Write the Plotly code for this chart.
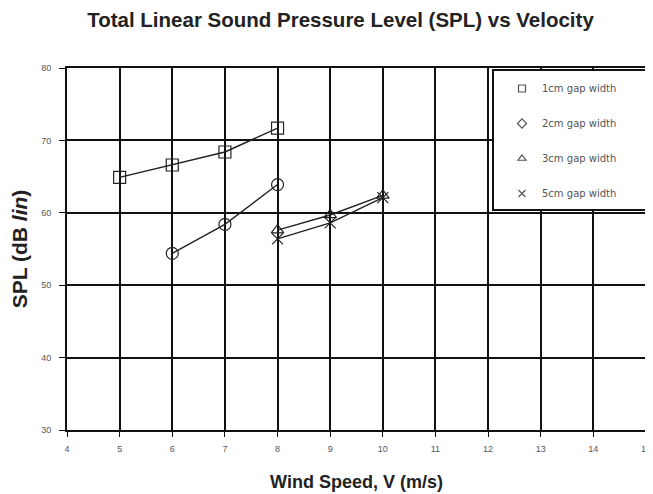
import plotly.graph_objects as go

# Data
speed_1cm = [5, 6, 7, 8]
spl_1cm = [64.9, 66.6, 68.4, 71.7]
speed_2cm = [6, 7, 8]
spl_2cm = [54.4, 58.4, 63.9]
speed_3cm = [8, 9, 10]
spl_3cm = [57.6, 59.7, 62.4]
speed_5cm = [8, 9, 10]
spl_5cm = [56.4, 58.6, 62.1]

names = ["1cm gap width", "2cm gap width", "3cm gap width", "5cm gap width"]
xs_all = [speed_1cm, speed_2cm, speed_3cm, speed_5cm]
ys_all = [spl_1cm, spl_2cm, spl_3cm, spl_5cm]
symbols = ["square-open", "circle-open", "triangle-up-open", "x-thin-open"]
sizes = [12, 12, 11, 11]
leg_symbols = ["square-open", "diamond-open", "triangle-up-open", "x-thin-open"]

fig = go.Figure()
for i in range(4):
    fig.add_trace(go.Scatter(
        x=xs_all[i], y=ys_all[i], name=names[i], mode="lines+markers",
        showlegend=False,
        line=dict(color="#222222", width=1.4),
        marker=dict(symbol=symbols[i], size=sizes[i], color="#222222",
                    line=dict(color="#222222", width=1.2)),
    ))
# legend entries (marker only, as in the reference legend)
for i in range(4):
    fig.add_trace(go.Scatter(
        x=[None], y=[None], name=names[i], mode="markers",
        legendgroup=f"g{i}",
        marker=dict(symbol=leg_symbols[i], size=7, color="#555555",
                    line=dict(color="#555555", width=1.2)),
    ))

font_main = "Liberation Sans, Arial, sans-serif"

# page body has an 8px margin, so the figure is sized to the remaining window
W, H = 645, 486
L, T = 59, 60
PW, PH = 579, 362

fig.update_layout(
    width=W, height=H,
    margin=dict(l=L, r=W - L - PW, t=T, b=H - T - PH, autoexpand=False),
    paper_bgcolor="white", plot_bgcolor="white",
    title=dict(text="<b>Total Linear Sound Pressure Level (SPL) vs Velocity</b>",
               x=332.5 / W, xanchor="center", y=1 - 12 / H, yanchor="middle",
               xref="container", yref="container",
               font=dict(family=font_main, size=20.5, color="#222222")),
    xaxis=dict(range=[4, 15.0001], dtick=1, tick0=4, automargin=False,
               showgrid=True, gridcolor="#111111", gridwidth=2,
               showline=True, linecolor="#111111", linewidth=2, mirror=True,
               ticks="outside", ticklen=5, tickcolor="#111111",
               ticklabelstandoff=4,
               tickfont=dict(family=font_main, size=9, color="#555555"),
               title=dict(text="<b>Wind Speed, V (m/s)</b>", standoff=23,
                          font=dict(family=font_main, size=18, color="#222222")),
               zeroline=False),
    yaxis=dict(range=[30, 80], dtick=10, automargin=False,
               showgrid=True, gridcolor="#111111", gridwidth=2,
               showline=True, linecolor="#111111", linewidth=2, mirror=True,
               ticks="outside", ticklen=6, tickcolor="#111111",
               ticklabelstandoff=6,
               tickfont=dict(family=font_main, size=9, color="#555555"),
               title=dict(text="<b>SPL (dB <i>lin</i>)</b>", standoff=12,
                          font=dict(family=font_main, size=21, color="#222222")),
               zeroline=False),
    legend=dict(x=(502 - 67) / PW, xanchor="left", y=1 - 6 / PH, yanchor="top",
                bgcolor="rgba(0,0,0,0)", borderwidth=0,
                font=dict(family="DejaVu Sans, sans-serif", size=10, color="#555555"),
                tracegroupgap=16, itemwidth=30),
    showlegend=True,
)

# legend frame
fig.add_shape(type="rect", xref="paper", yref="paper",
              x0=(493 - 67) / PW, x1=1.0,
              y0=1 - (210 - 68) / PH, y1=1 - (70 - 68) / PH,
              line=dict(color="#111111", width=2), fillcolor="white",
              layer="above")

fig.write_html("out.html")
